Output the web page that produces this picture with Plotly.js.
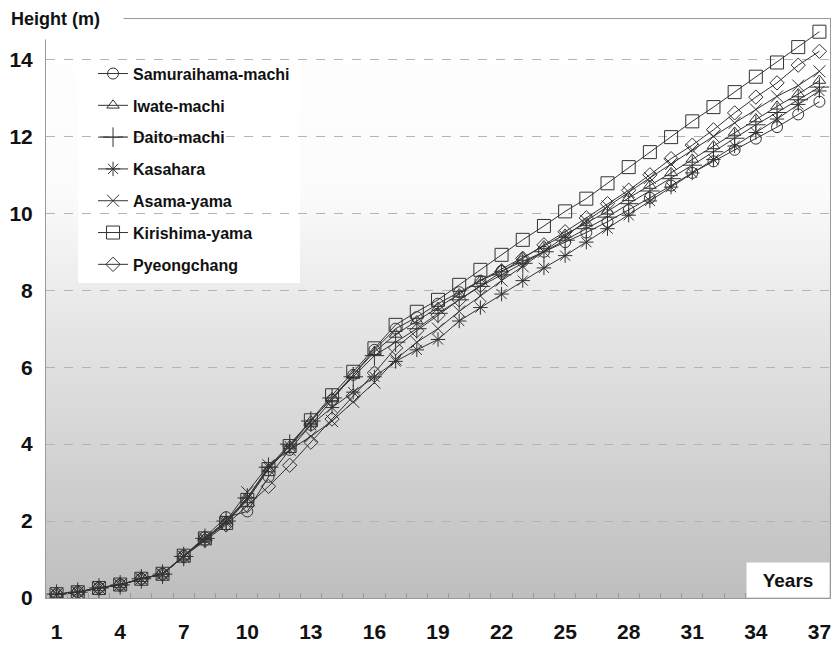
<!DOCTYPE html>
<html>
<head>
<meta charset="utf-8">
<script src="https://cdn.plot.ly/plotly-3.0.1.min.js"></script>
<style>
html,body{margin:0;padding:0;background:#fff;}
#chart{width:833px;height:646px;}
</style>
</head>
<body>
<div id="chart"></div>
<script>
var years = [1,2,3,4,5,6,7,8,9,10,11,12,13,14,15,16,17,18,19,20,21,22,23,24,25,26,27,28,29,30,31,32,33,34,35,36,37];
var xTickVals = [1,4,7,10,13,16,19,22,25,28,31,34,37];
var xTickText = ["1","4","7","10","13","16","19","22","25","28","31","34","37"];
var yTickVals = [0,2,4,6,8,10,12,14];
var yTickText = ["0","2","4","6","8","10","12","14"];

var seriesNames = ["Samuraihama-machi","Iwate-machi","Daito-machi","Kasahara","Asama-yama","Kirishima-yama","Pyeongchang"];

var samuraihama = [0.10,0.16,0.27,0.35,0.50,0.63,1.10,1.58,2.10,2.25,3.15,3.85,4.50,5.15,5.80,6.45,7.00,7.30,7.65,7.95,8.25,8.50,8.75,9.00,9.25,9.50,9.78,10.08,10.40,10.72,11.05,11.35,11.65,11.94,12.24,12.57,12.90];
var iwate = [0.09,0.15,0.26,0.34,0.50,0.62,1.08,1.55,2.00,2.55,3.35,3.95,4.60,5.20,5.80,6.40,6.85,7.20,7.55,7.90,8.25,8.55,8.85,9.15,9.45,9.75,10.05,10.40,10.72,11.05,11.40,11.75,12.10,12.45,12.78,13.10,13.45];
var daito = [0.10,0.15,0.26,0.34,0.50,0.62,1.08,1.55,2.00,2.60,3.40,4.00,4.60,5.20,5.75,6.30,6.65,7.00,7.40,7.75,8.10,8.40,8.70,9.00,9.30,9.60,9.90,10.25,10.58,10.90,11.25,11.60,11.95,12.30,12.62,12.95,13.28];
var kasahara = [0.10,0.15,0.26,0.34,0.50,0.62,1.08,1.52,1.95,2.60,3.40,3.95,4.50,4.95,5.35,5.75,6.15,6.45,6.72,7.20,7.55,7.90,8.25,8.58,8.90,9.25,9.60,9.95,10.32,10.68,11.05,11.40,11.75,12.10,12.45,12.83,13.18];
var asama = [0.10,0.15,0.26,0.34,0.50,0.62,1.08,1.55,2.00,2.75,3.45,3.85,4.20,4.60,5.10,5.60,6.20,6.65,7.00,7.45,7.85,8.25,8.62,9.00,9.40,9.80,10.18,10.55,10.92,11.28,11.65,12.00,12.35,12.70,13.04,13.32,13.69];
var kirishima = [0.10,0.15,0.26,0.35,0.50,0.63,1.10,1.55,1.95,2.55,3.35,3.95,4.62,5.27,5.88,6.49,7.10,7.44,7.75,8.14,8.53,8.92,9.31,9.67,10.05,10.38,10.78,11.20,11.59,11.98,12.39,12.76,13.15,13.55,13.92,14.32,14.72];
var pyeongchang = [0.10,0.15,0.26,0.34,0.50,0.62,1.08,1.50,1.90,2.40,2.90,3.45,4.05,4.65,5.25,5.85,6.50,6.95,7.35,7.75,8.12,8.48,8.83,9.18,9.52,9.88,10.25,10.60,11.00,11.42,11.77,12.17,12.61,13.02,13.39,13.85,14.21];

var seriesValues = [samuraihama, iwate, daito, kasahara, asama, kirishima, pyeongchang];
var symbols = ["circle-open","triangle-up-open","cross-thin-open","asterisk-open","x-thin-open","square-open","diamond-open"];
var sizes = [11,11,14,12,12,13,11];

var lineColor = "#333333";
var FONT = "'Liberation Sans', Arial, sans-serif";

var traces = seriesNames.map(function(name, i){
  return {
    x: years, y: seriesValues[i], name: name, type: "scatter", mode: "lines+markers",
    legendgroup: "g" + i,
    line: {color: lineColor, width: 1},
    marker: {symbol: symbols[i], size: sizes[i], color: lineColor, line: {color: lineColor, width: 1}}
  };
});

var gradSvg = '<svg xmlns="http://www.w3.org/2000/svg" width="100" height="100" preserveAspectRatio="none">' +
  '<defs><linearGradient id="g" x1="0" y1="0" x2="0" y2="1">' +
  '<stop offset="0" stop-color="#ffffff"/><stop offset="0.3" stop-color="#fbfbfb"/>' +
  '<stop offset="0.55" stop-color="#e4e4e4"/><stop offset="0.8" stop-color="#cfcfcf"/><stop offset="1" stop-color="#bebebe"/>' +
  '</linearGradient></defs><rect width="100" height="100" fill="url(#g)"/></svg>';
var gradUri = "data:image/svg+xml;base64," + btoa(gradSvg);

var layout = {
  width: 833, height: 646,
  margin: {l: 46, r: 3, t: 19, b: 48},
  paper_bgcolor: "#ffffff",
  plot_bgcolor: "rgba(0,0,0,0)",
  showlegend: true,
  legend: {
    x: 0.06, y: 0.935, xanchor: "left", yanchor: "top",
    bgcolor: "rgba(255,255,255,0)", borderwidth: 0,
    traceorder: "grouped", tracegroupgap: 8,
    font: {family: FONT, size: 16, color: "#111", weight: "bold"}
  },
  images: [{
    source: gradUri, xref: "paper", yref: "paper", x: 0, y: 1, sizex: 1, sizey: 1,
    xanchor: "left", yanchor: "top", sizing: "stretch", layer: "below"
  }],
  shapes: [{
    type: "rect", xref: "paper", yref: "paper",
    x0: 0.041, x1: 0.324, y0: 0.544, y1: 0.965,
    fillcolor: "#ffffff", line: {width: 0}, layer: "between"
  }],
  xaxis: {
    range: [0.5, 37.5],
    tickmode: "array", tickvals: xTickVals, ticktext: xTickText,
    ticks: "", showgrid: false, zeroline: false,
    showline: true, linecolor: "#999", linewidth: 1, mirror: true,
    ticklabelstandoff: 15,
    tickfont: {family: FONT, size: 21, color: "#111", weight: "bold"},
    minor: {tickmode: "linear", tick0: 0.5, dtick: 1, ticks: "inside", ticklen: 5, tickcolor: "#999", showgrid: false}
  },
  yaxis: {
    range: [0, 15.05],
    tickmode: "array", tickvals: yTickVals, ticktext: yTickText,
    ticks: "", showgrid: true, gridcolor: "#b4b4b4", griddash: "dash", gridwidth: 1,
    zeroline: false,
    showline: true, linecolor: "#999", linewidth: 1, mirror: true,
    ticklabelstandoff: 8,
    tickfont: {family: FONT, size: 21, color: "#111", weight: "bold"}
  },
  annotations: [
    {
      text: "Height (m)", xref: "paper", yref: "paper",
      x: -0.046, y: 1, xanchor: "left", yanchor: "middle",
      width: 112, height: 40, align: "left", valign: "middle",
      bgcolor: "#ffffff", borderpad: 0, showarrow: false,
      font: {family: FONT, size: 18, color: "#111", weight: "bold"}
    },
    {
      text: "Years", xref: "paper", yref: "paper",
      x: 1, y: 0, xanchor: "right", yanchor: "bottom",
      width: 82, height: 34, align: "center", valign: "middle",
      bgcolor: "#ffffff", borderpad: 0, showarrow: false,
      font: {family: FONT, size: 19, color: "#111", weight: "bold"}
    }
  ]
};

Plotly.newPlot("chart", traces, layout, {displayModeBar: false, staticPlot: true});
</script>
</body>
</html>
